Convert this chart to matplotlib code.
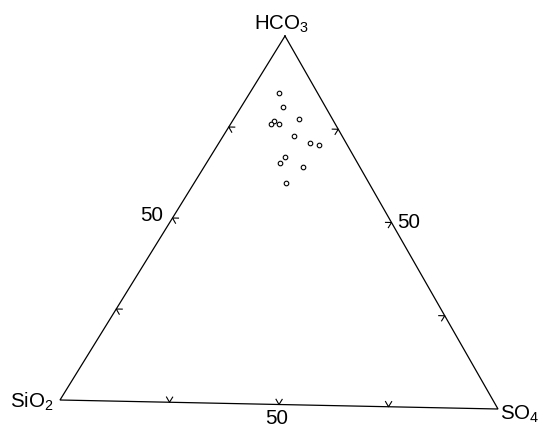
import numpy as np
import matplotlib
matplotlib.use("Agg")
import matplotlib.pyplot as plt

plt.rcParams["font.family"] = ["Liberation Sans", "DejaVu Sans"]
plt.rcParams["mathtext.fontset"] = "custom"
plt.rcParams["mathtext.rm"] = "Liberation Sans"
plt.rcParams["mathtext.it"] = "Liberation Sans:italic"

# Sample composition (percent of HCO3 + SiO2 + SO4)
hco3 = [84.5, 80.8, 77.6, 76.8, 76.0, 76.0, 72.9, 71.2, 70.7, 67.1, 65.5, 64.5, 60.1]
so4 = [6.6, 9.4, 14.7, 9.5, 9.1, 10.9, 16.0, 20.4, 22.9, 16.8, 16.6, 22.4, 20.7]
sio2 = [100 - a - b for a, b in zip(hco3, so4)]

apex_labels = ["HCO$_3$", "SiO$_2$", "SO$_4$"]
tick_values = [25, 50, 75]
tick_label_value = 50

# Corner positions of the diagram on the canvas (HCO3 top, SiO2 left, SO4 right)
TOP = np.array([285.0, 37.0])
LEFT = np.array([60.0, 401.0])
RIGHT = np.array([498.0, 410.0])


def to_xy(h, si, s):
    h, si, s = (np.asarray(v, float) / 100.0 for v in (h, si, s))
    pts = np.outer(h, TOP) + np.outer(si, LEFT) + np.outer(s, RIGHT)
    return pts[:, 0], pts[:, 1]


fig = plt.figure(figsize=(5.38, 4.27), dpi=100)
ax = fig.add_axes([0, 0, 1, 1])
ax.set_xlim(0, 538)
ax.set_ylim(427, 0)
ax.axis("off")

# Triangle outline
tri = np.array([TOP, RIGHT, LEFT, TOP])
ax.plot(tri[:, 0], tri[:, 1], color="black", lw=0.9, solid_joinstyle="miter")

# Chevron ticks: arms run parallel to the two other sides, into the interior
arm = 6.0
edges = [(LEFT, RIGHT, TOP), (LEFT, TOP, RIGHT), (TOP, RIGHT, LEFT)]
for a, b, c in edges:
    d1 = (c - a) / np.linalg.norm(c - a)
    d2 = (c - b) / np.linalg.norm(c - b)
    for v in tick_values:
        p = a + (b - a) * v / 100.0
        q1 = p + d1 * arm
        q2 = p + d2 * arm
        ax.plot([q1[0], p[0], q2[0]], [q1[1], p[1], q2[1]], color="black", lw=0.8)

# Sample points
x, y = to_xy(hco3, sio2, so4)
ax.plot(x, y, "o", ms=3.3, mfc="white", mec="black", mew=0.8, ls="none")

fs = 14.8
ax.text(TOP[0] - 3, 30, apex_labels[0], ha="center", va="baseline", fontsize=fs)
ax.text(LEFT[0] - 6, 408, apex_labels[1], ha="right", va="baseline", fontsize=fs)
ax.text(RIGHT[0] + 2, 420, apex_labels[2], ha="left", va="baseline", fontsize=fs)

lbl = str(tick_label_value)
mid_left = (LEFT + TOP) / 2
mid_right = (TOP + RIGHT) / 2
mid_bottom = (LEFT + RIGHT) / 2
ax.text(mid_left[0] - 9, mid_left[1] + 2, lbl, ha="right", va="baseline", fontsize=fs)
ax.text(mid_right[0] + 6, mid_right[1] + 5, lbl, ha="left", va="baseline", fontsize=fs)
ax.text(mid_bottom[0] - 2, 424, lbl, ha="center", va="baseline", fontsize=fs)

fig.savefig("out.png", dpi=100, facecolor="white")
